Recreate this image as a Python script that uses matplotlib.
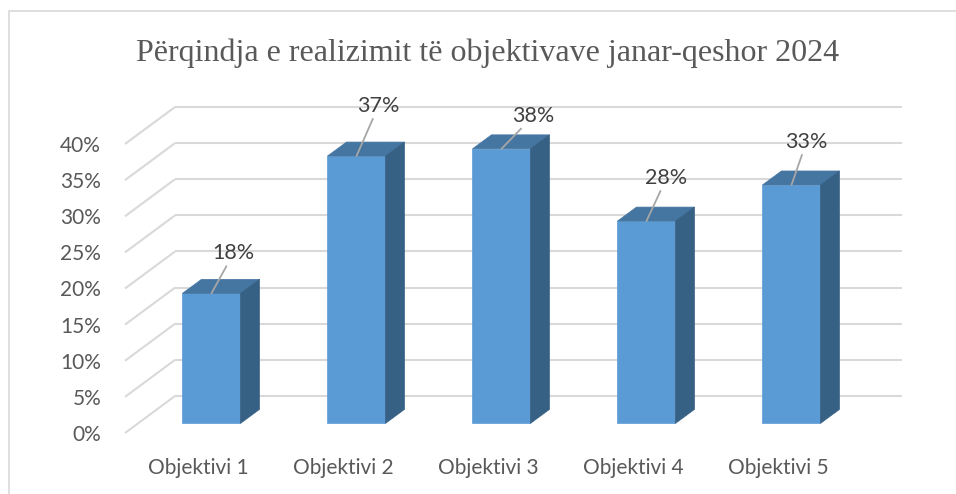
import numpy as np
import matplotlib
matplotlib.use("Agg")
from matplotlib import pyplot as plt
from matplotlib.patches import Polygon, Rectangle

categorii = ["Objektivi 1", "Objektivi 2", "Objektivi 3", "Objektivi 4", "Objektivi 5"]
vlerat = [18, 37, 38, 28, 33]
etiketat = ["18%", "37%", "38%", "28%", "33%"]
nivelet = [0, 5, 10, 15, 20, 25, 30, 35, 40]
titulli = "Përqindja e realizimit të objektivave janar-qeshor 2024"

# pixel layout of the front plane
W, H = 956, 494
X0, DXC = 198.5, 145.0     # px of category 0, px per category
Y0, PY = 433.0, 7.225      # px of 0%, px per percent
ax_l, ax_r, ax_b, ax_t = 108, 920, 445, 60

def dx(px):
    return px / DXC

def dy(px):
    return px / PY

fig = plt.figure(figsize=(W / 100, H / 100), dpi=100)
ax = fig.add_axes([ax_l / W, (H - ax_b) / H, (ax_r - ax_l) / W, (ax_b - ax_t) / H])
ax.set_xlim((ax_l - X0) / DXC, (ax_r - X0) / DXC)
ax.set_ylim((Y0 - ax_b) / PY, (Y0 - ax_t) / PY)
ax.set_facecolor("none")
for s in ax.spines.values():
    s.set_visible(False)

# frame round the chart
fig.patches.append(Rectangle((9 / W, -0.1), 1.2, (H - 11) / H + 0.1, transform=fig.transFigure,
                             fill=False, edgecolor="#d9d9d9", lw=1.2))

# back wall + floor grid
gcol = "#d9d9d9"
xl = (125 - X0) / DXC
xr = (902 - X0) / DXC
ddx, ddy = dx(50), dy(37)
for v in nivelet:
    ax.plot([xl, xl + ddx], [v, v + ddy], color=gcol, lw=1.5, zorder=1, solid_capstyle="butt")
    ax.plot([xl + ddx, xr], [v + ddy, v + ddy], color=gcol, lw=1.5, zorder=1, solid_capstyle="butt")

# bars
f_front = 9.6 / 37
bw = dx(58)
sx, sy = dx(19), dy(14)
fx, fy = ddx * f_front, ddy * f_front
x = np.arange(len(categorii))
ax.bar(x + fx, vlerat, width=bw, bottom=fy, color="#5b9bd5", edgecolor="#5b9bd5", lw=0.5, zorder=3)
for xi, v in zip(x, vlerat):
    l = xi + fx - bw / 2
    r = xi + fx + bw / 2
    top = v + fy
    ax.add_patch(Polygon([(l, top), (r, top), (r + sx, top + sy), (l + sx, top + sy)],
                         closed=True, facecolor="#4575a1", edgecolor="#4575a1", lw=0.5, zorder=3))
    ax.add_patch(Polygon([(r, fy), (r + sx, fy + sy), (r + sx, top + sy), (r, top)],
                         closed=True, facecolor="#376085", edgecolor="#376085", lw=0.5, zorder=3))

# data labels with leader lines (offsets in px)
lbl_off = [(22, 40), (22, 50), (32, 33), (20, 43), (15, 43)]
for xi, v, t, (ox, oy) in zip(x, vlerat, etiketat, lbl_off):
    ax.annotate(t, xy=(xi + fx, v + fy), xytext=(ox * 0.72, oy * 0.72), textcoords="offset points",
                ha="center", va="center", fontsize=15.5, color="#404040", family="Lato",
                arrowprops=dict(arrowstyle="-", color="#a6a6a6", lw=1.3, shrinkA=0, shrinkB=0),
                zorder=5)

ax.set_yticks(nivelet)
ax.set_yticklabels([f"{v}%" for v in nivelet])
ax.set_xticks(x)
ax.set_xticklabels(categorii)
ax.tick_params(axis="both", length=0, labelsize=15, labelcolor="#595959")
ax.tick_params(axis="y", pad=5)
ax.tick_params(axis="x", pad=9)
for lab in ax.get_xticklabels() + ax.get_yticklabels():
    lab.set_family("Lato")

fig.text(488 / W, (H - 61) / H, titulli, ha="center", va="baseline", fontsize=23,
         family="Liberation Serif", color="#595959")

fig.savefig("out.png", dpi=100)
